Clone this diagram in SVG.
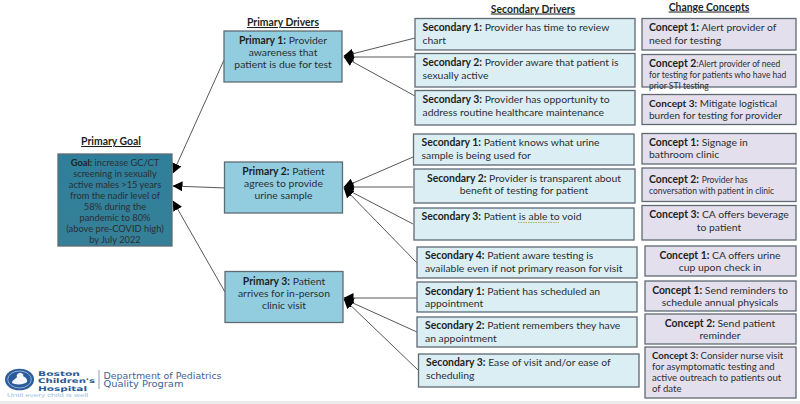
<svg xmlns="http://www.w3.org/2000/svg" width="800" height="404" viewBox="0 0 800 404">
<style>
text{font-family:Lato,"Liberation Sans",sans-serif;font-size:10.4px;fill:#2b2f33}
.b{font-weight:700;fill:#1c1f22}
.h{font-weight:700;text-decoration:underline;fill:#1c1f22;text-anchor:middle;font-size:10.4px}
.m{text-anchor:middle}
.s{font-size:8.5px}
.g{font-size:9.3px}
.t{font-size:10px}
.box{stroke:#5f6b73;stroke-width:1.3}
.p{fill:#92cddf}
.sd{fill:#dbeef4}
.cc{fill:#e4dfec}
.ln{fill:none;stroke:#55595c;stroke-width:1;marker-end:url(#ah)}
.lg{font-family:"DejaVu Sans",sans-serif;fill:#3f6496;font-size:8px}
.lb{font-family:"DejaVu Sans",sans-serif;font-weight:700;fill:#2a5a94;font-size:6.5px}
.tg{font-family:"Liberation Sans",sans-serif;font-size:5.5px;fill:#9cc3e0}
</style>
<defs>
<marker id="ah" markerUnits="userSpaceOnUse" markerWidth="11" markerHeight="10" refX="9.5" refY="5" orient="auto"><path d="M0 0L10 5L0 10Z" fill="#000"/></marker>
<linearGradient id="gd" x1="0" y1="0" x2="0" y2="1"><stop offset="0" stop-color="#2f7f9c"/><stop offset="1" stop-color="#358097"/></linearGradient>
</defs>
<rect x="0" y="401" width="800" height="3" fill="#ececec"/>
<text class="h" x="283" y="26">Primary Drivers</text>
<text class="h" x="111" y="145">Primary Goal</text>
<text class="h" x="533" y="12.5">Secondary Drivers</text>
<text class="h" x="709" y="10.5">Change Concepts</text>
<g id="connectors">
<path class="ln" d="M224 60L173 173"/>
<path class="ln" d="M226 188L173 186"/>
<path class="ln" d="M225 292L173 201"/>
<path class="ln" d="M415 38L344 56"/>
<path class="ln" d="M415 57L344 57"/>
<path class="ln" d="M415 96L344 57"/>
<path class="ln" d="M413 157L344 187"/>
<path class="ln" d="M413 187L344 187"/>
<path class="ln" d="M413 224L344 188"/>
<path class="ln" d="M417 263L344 188"/>
<path class="ln" d="M417 298L344 298"/>
<path class="ln" d="M417 332L344 299"/>
<path class="ln" d="M418 370L344 299"/>
</g>
<g id="goal"><rect class="box" x="58" y="154" width="114" height="92" fill="url(#gd)"/>
<text class="m g" x="115" y="166"><tspan class="b g">Goal:</tspan> increase GC/CT</text>
<text class="m g" x="115" y="177">screening in sexually</text>
<text class="m g" x="115" y="188">active males &gt;15 years</text>
<text class="m g" x="115" y="199">from the nadir level of</text>
<text class="m g" x="115" y="210">58% during the</text>
<text class="m g" x="115" y="221">pandemic to 80%</text>
<text class="m g" x="115" y="232">(above pre-COVID high)</text>
<text class="m g" x="115" y="243">by July 2022</text></g>
<g id="primary1"><rect class="box p" x="224" y="31" width="118" height="51"/>
<text class="m" x="283" y="43.500"><tspan class="b">Primary 1:</tspan> Provider</text>
<text class="m" x="283" y="56">awareness that</text>
<text class="m" x="283" y="67.500">patient is due for test</text></g>
<g id="primary2"><rect class="box p" x="224.500" y="162" width="118" height="51"/>
<text class="m" x="283.500" y="174.500"><tspan class="b">Primary 2:</tspan> Patient</text>
<text class="m" x="283.500" y="187">agrees to provide</text>
<text class="m" x="283.500" y="198.500">urine sample</text></g>
<g id="primary3"><rect class="box p" x="225" y="271.500" width="118" height="51"/>
<text class="m" x="284" y="284.500"><tspan class="b">Primary 3:</tspan> Patient</text>
<text class="m" x="284" y="297">arrives for in-person</text>
<text class="m" x="284" y="308.500">clinic visit</text></g>
<g id="sec1a"><rect class="box sd" x="415" y="18.500" width="220" height="31.500"/>
<text x="422.500" y="31"><tspan class="b">Secondary 1:</tspan> Provider has time to review</text><text x="422.500" y="43.500">chart</text></g>
<g id="sec2a"><rect class="box sd" x="415" y="53.500" width="220" height="33.500"/>
<text x="422.500" y="66"><tspan class="b">Secondary 2:</tspan> Provider aware that patient is</text><text x="422.500" y="78.500">sexually active</text></g>
<g id="sec3a"><rect class="box sd" x="415" y="90.500" width="220" height="34.500"/>
<text x="422.500" y="103"><tspan class="b">Secondary 3:</tspan> Provider has opportunity to</text><text x="422.500" y="115.500">address routine healthcare maintenance</text></g>
<g id="sec1b"><rect class="box sd" x="413.500" y="134" width="220.500" height="31"/>
<text x="421.500" y="146"><tspan class="b">Secondary 1:</tspan> Patient knows what urine</text><text x="421.500" y="158.500">sample is being used for</text></g>
<g id="sec2b"><rect class="box sd" x="414" y="169" width="221" height="34"/>
<text class="m" x="524" y="182"><tspan class="b">Secondary 2:</tspan> Provider is transparent about</text><text class="m" x="524" y="194">benefit of testing for patient</text></g>
<g id="sec3b"><rect class="box sd" x="414" y="208" width="220" height="32"/>
<text x="421.500" y="219.500"><tspan class="b">Secondary 3:</tspan> Patient is able to void</text>
<path d="M518 222.500H559" stroke="#b9ad6a" stroke-width="1" stroke-dasharray="1.500 1" fill="none"/></g>
<g id="sec4b"><rect class="box sd" x="417" y="247" width="220" height="31"/>
<text x="425" y="259"><tspan class="b">Secondary 4:</tspan> Patient aware testing is</text><text x="425" y="271.500">available even if not primary reason for visit</text></g>
<g id="sec1c"><rect class="box sd" x="417" y="282" width="220" height="30"/>
<text x="425" y="294.500"><tspan class="b">Secondary 1:</tspan> Patient has scheduled an</text><text x="425" y="306.500">appointment</text></g>
<g id="sec2c"><rect class="box sd" x="417" y="317" width="220" height="30"/>
<text x="425" y="329"><tspan class="b">Secondary 2:</tspan> Patient remembers they have</text><text x="425" y="341.500">an appointment</text></g>
<g id="sec3c"><rect class="box sd" x="418.500" y="354" width="220.500" height="33"/>
<text x="426" y="366"><tspan class="b">Secondary 3:</tspan> Ease of visit and/or ease of</text><text x="426" y="378.500">scheduling</text></g>
<g id="con1a"><rect class="box cc" x="642" y="18.500" width="154" height="31.500"/>
<text x="649" y="31"><tspan class="b">Concept 1:</tspan> Alert provider of</text><text x="649" y="43.500">need for testing</text></g>
<g id="con2a"><rect class="box cc" x="642" y="54.500" width="154" height="32.500"/>
<text x="649" y="67"><tspan class="b">Concept 2</tspan><tspan class="s">:Alert provider of need</tspan></text><text class="s" x="649" y="77.500">for testing for patients who have had</text><text class="s" x="649" y="88.500">prior STI testing</text></g>
<g id="con3a"><rect class="box cc" x="642" y="94.500" width="154" height="30"/>
<text class="t" x="649" y="107"><tspan class="b t">Concept 3:</tspan> Mitigate logistical</text><text class="t" x="649" y="119">burden for testing for provider</text></g>
<g id="con1b"><rect class="box cc" x="642" y="133.500" width="154" height="30.500"/>
<text x="649" y="146"><tspan class="b">Concept 1:</tspan> Signage in</text><text x="649" y="158">bathroom clinic</text></g>
<g id="con2b"><rect class="box cc" x="642" y="168" width="154" height="33.500"/>
<text x="649" y="183"><tspan class="b">Concept 2:</tspan> <tspan class="s"> Provider has</tspan></text><text class="s" x="649" y="194">conversation with patient in clinic</text></g>
<g id="con3b"><rect class="box cc" x="642" y="205.500" width="154" height="34.500"/>
<text class="m" x="719" y="218"><tspan class="b">Concept 3:</tspan> CA offers beverage</text><text class="m" x="719" y="231">to patient</text></g>
<g id="con1c"><rect class="box cc" x="645" y="246" width="151" height="30"/>
<text class="m" x="720" y="258.500"><tspan class="b">Concept 1:</tspan> CA offers urine</text><text class="m" x="720" y="270.500">cup upon check in</text></g>
<g id="con1d"><rect class="box cc" x="645" y="281" width="151" height="30"/>
<text class="m" x="720" y="293.500"><tspan class="b">Concept 1:</tspan> Send reminders to</text><text class="m" x="720" y="306">schedule annual physicals</text></g>
<g id="con2d"><rect class="box cc" x="645" y="314" width="151" height="30"/>
<text class="m" x="720" y="326.500"><tspan class="b">Concept 2:</tspan> Send patient</text><text class="m" x="720" y="339">reminder</text></g>
<g id="con3d"><rect class="box cc" x="645" y="347" width="151" height="51"/>
<text x="652" y="359" style="font-size:9.600px"><tspan class="b" style="font-size:9.600px">Concept 3:</tspan> Consider nurse visit</text>
<text x="652" y="370" style="font-size:9.600px">for asymptomatic testing and</text>
<text x="652" y="381" style="font-size:9.600px">active outreach to patients out</text>
<text x="652" y="392" style="font-size:9.600px">of date</text></g>
<g id="logo">
<ellipse cx="19.500" cy="379.500" rx="14.500" ry="10.800" fill="#2a5c9c"/>
<ellipse cx="19.500" cy="379.500" rx="11.800" ry="8.500" fill="none" stroke="#dfe8f2" stroke-width=".6"/>
<path d="M12 383c0-3 4-4 5-6c-1-2 1-4 3-4c3 0 4 2 3 3c2 1 5 3 4 6c-3 3-12 3-15 1z" fill="#f3f6fa"/>
<text class="lb" x="38" y="375.500" textLength="42" lengthAdjust="spacingAndGlyphs">Boston</text>
<text class="lb" x="38" y="383" textLength="57" lengthAdjust="spacingAndGlyphs">Children's</text>
<text class="lb" x="38" y="390.500" textLength="49" lengthAdjust="spacingAndGlyphs">Hospital</text>
<path d="M99 370V389" stroke="#8aa0ba" stroke-width="1"/>
<text class="lg" x="103.500" y="378.500" textLength="118" lengthAdjust="spacingAndGlyphs">Department of Pediatrics</text>
<text class="lg" x="103.500" y="386.500" textLength="80" lengthAdjust="spacingAndGlyphs">Quality Program</text>
<text class="tg" x="7" y="396.500" textLength="81" lengthAdjust="spacingAndGlyphs">Until every child is well</text>
</g>
</svg>
